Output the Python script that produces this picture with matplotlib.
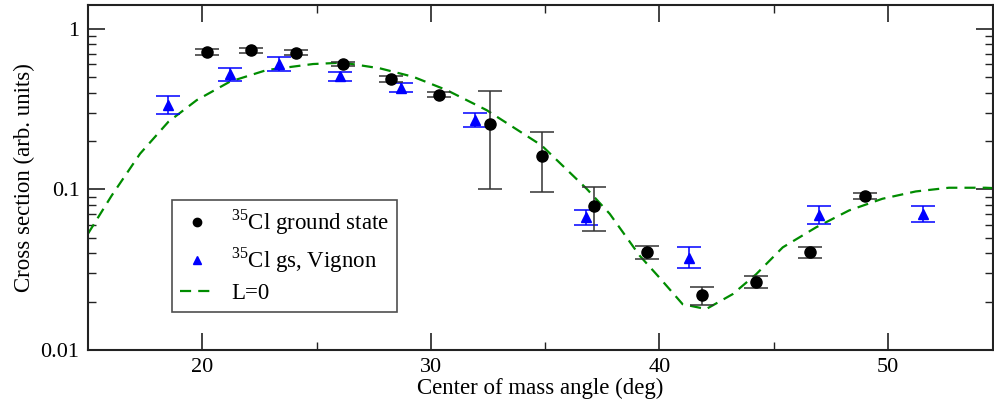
import numpy as np
import matplotlib
matplotlib.use('Agg')
import matplotlib.pyplot as plt
from matplotlib.lines import Line2D
from matplotlib.ticker import LogLocator, FixedLocator, NullFormatter

plt.rcParams['font.family'] = ['Liberation Serif', 'DejaVu Serif']
plt.rcParams['mathtext.fontset'] = 'custom'
plt.rcParams['mathtext.rm'] = 'Liberation Serif'

# 35Cl ground state (black circles)
gs_angle = [20.22, 22.13, 24.11, 26.15, 28.24, 30.38, 32.61, 34.85, 37.16,
            39.48, 41.86, 44.22, 46.58, 49.0]
gs_xs = [0.721, 0.736, 0.711, 0.604, 0.489, 0.389, 0.254, 0.162, 0.0794,
         0.0406, 0.0221, 0.0267, 0.0406, 0.0913]
gs_hi = [0.752, 0.765, 0.740, 0.625, 0.510, 0.402, 0.408, 0.227, 0.1035,
         0.0443, 0.0248, 0.0289, 0.0436, 0.0950]
gs_lo = [0.690, 0.708, 0.684, 0.585, 0.470, 0.377, 0.100, 0.096, 0.0550,
         0.0370, 0.0191, 0.0245, 0.0374, 0.0878]

# 35Cl gs, Vignon (blue triangles)
vig_angle = [18.52, 21.2, 23.36, 26.04, 28.69, 31.94, 36.8, 41.31, 47.0, 51.55]
vig_xs = [0.334, 0.521, 0.604, 0.506, 0.429, 0.271, 0.067, 0.0377, 0.069, 0.0705]
vig_hi = [0.380, 0.573, 0.668, 0.541, 0.458, 0.300, 0.0743, 0.0436, 0.0788, 0.0788]
vig_lo = [0.293, 0.473, 0.547, 0.473, 0.402, 0.244, 0.0604, 0.0324, 0.0606, 0.063]

# L=0 calculation
l0_angle = [15.0, 16.04, 17.28, 18.52, 19.76, 21.21, 22.82, 24.85, 26.16,
            27.77, 29.23, 30.69, 32.44, 34.85, 36.82, 37.83, 39.14, 40.0,
            41.02, 42.05, 43.21, 44.23, 45.4, 46.85, 48.3, 49.76, 51.22,
            52.67, 54.27, 54.6]
l0_xs = [0.053, 0.0917, 0.167, 0.264, 0.36, 0.469, 0.554, 0.604, 0.616,
         0.568, 0.503, 0.416, 0.312, 0.188, 0.101, 0.0705, 0.0387, 0.0283,
         0.0193, 0.0180, 0.0223, 0.0296, 0.0436, 0.058, 0.074, 0.0875, 0.0972,
         0.1025, 0.1025, 0.1020]

gs_xs = np.array(gs_xs)
vig_xs = np.array(vig_xs)

fig = plt.figure(figsize=(9.95, 4.08), dpi=100)
ax = fig.add_axes([0.0884, 0.142, 0.9096, 0.846])

ax.plot(l0_angle, l0_xs, color='#008c00', lw=1.6, dashes=(5, 3.2))

ax.errorbar(vig_angle, vig_xs,
            yerr=[vig_xs - np.array(vig_lo), np.array(vig_hi) - vig_xs],
            fmt='^', color='#0000ff', ms=7.2, capsize=8.5, elinewidth=1.1,
            capthick=1.1)
ax.errorbar(gs_angle, gs_xs,
            yerr=[gs_xs - np.array(gs_lo), np.array(gs_hi) - gs_xs],
            fmt='o', color='black', ecolor='#333333', ms=8, capsize=8.5,
            elinewidth=1.1, capthick=1.1)

ax.set_yscale('log')
ax.set_xlim(15, 54.6)
ax.set_ylim(0.01, 1.41)

ax.xaxis.set_major_locator(FixedLocator([20, 30, 40, 50]))
ax.xaxis.set_minor_locator(FixedLocator([25, 35, 45]))
ax.yaxis.set_major_locator(FixedLocator([0.01, 0.1, 1]))
ax.yaxis.set_minor_locator(LogLocator(base=10, subs=np.arange(2, 10)))
ax.yaxis.set_minor_formatter(NullFormatter())
ax.set_yticklabels(['0.01', '0.1', '1'])

ax.tick_params(which='both', direction='in', top=True, right=True,
               labelsize=16, colors='#222222', labelcolor='black')
ax.tick_params(which='major', length=12, width=1.2, pad=6)
ax.tick_params(which='minor', length=6, width=1.0)
for s in ax.spines.values():
    s.set_linewidth(1.5)
    s.set_color('#222222')

ax.set_xlabel('Center of mass angle (deg)', fontsize=16.5, labelpad=0)
ax.set_ylabel('Cross section (arb. units)', fontsize=16.5, labelpad=4)

handles = [Line2D([], [], ls='none', marker='o', color='black', ms=6),
           Line2D([], [], ls='none', marker='^', color='#0000ff', ms=6),
           Line2D([], [], color='#008c00', lw=1.6, dashes=(5, 3.2))]
labels = [r'$^{\mathrm{35}}$Cl ground state', r'$^{\mathrm{35}}$Cl gs, Vignon', 'L=0']
leg = ax.legend(handles, labels, loc='lower left', bbox_to_anchor=(0.093, 0.109),
                fontsize=16.5, fancybox=False, edgecolor='#222222',
                handlelength=1.48, handletextpad=0.75, borderpad=0.35,
                labelspacing=0.36, borderaxespad=0)
leg.get_frame().set_linewidth(1.2)

fig.savefig('out.png', dpi=100)
